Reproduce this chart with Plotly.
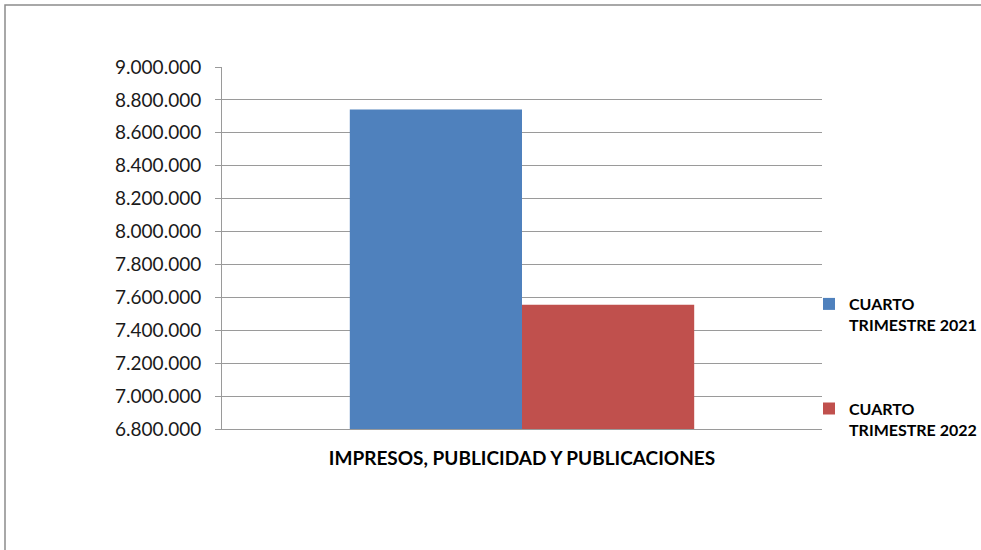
import plotly.graph_objects as go

categories = ["IMPRESOS, PUBLICIDAD Y PUBLICACIONES"]
series_names = ["CUARTO<br>TRIMESTRE 2021", "CUARTO<br>TRIMESTRE 2022"]
values_2021 = [8741000]
values_2022 = [7555000]
colors = ["#4F81BD", "#C0504D"]
tick_vals = [6800000 + 200000 * i for i in range(12)]

W, H = 981, 550
L, R, T, B = 222, 822, 67, 429

fig = go.Figure()
fig.add_trace(go.Bar(x=categories, y=values_2021, name=series_names[0],
                     marker=dict(color=colors[0], line=dict(width=0)), legendgroup="a"))
fig.add_trace(go.Bar(x=categories, y=values_2022, name=series_names[1],
                     marker=dict(color=colors[1], line=dict(width=0)), legendgroup="b"))

px = lambda x: (x - L) / (R - L)
py = lambda y: 1 - (y - T) / (B - T)

fig.update_layout(
    width=W, height=H,
    margin=dict(l=L, r=W - R, t=T, b=H - B, autoexpand=False),
    paper_bgcolor="white", plot_bgcolor="white",
    separators=",.",
    bargap=0.426, bargroupgap=0,
    font=dict(family="Lato, Liberation Sans, sans-serif", color="#000000"),
    showlegend=True,
    legend=dict(x=px(809), y=py(287), xanchor="left", yanchor="top",
                font=dict(size=16, family="Lato, sans-serif", weight="bold"),
                valign="top",
                tracegroupgap=60, itemwidth=30, bgcolor="rgba(0,0,0,0)"),
    xaxis=dict(showline=True, linecolor="#9a9a9a", linewidth=1, ticks="",
               tickfont=dict(size=19, family="Lato, sans-serif", weight="bold"),
               ticklabelstandoff=12),
    yaxis=dict(range=[6800000, 9000000], tickvals=tick_vals, tickformat=",d",
               showgrid=True, gridcolor="#9a9a9a", gridwidth=1,
               showline=True, linecolor="#9a9a9a", linewidth=1,
               ticks="outside", ticklen=6, tickcolor="#9a9a9a",
               tickfont=dict(size=19, family="Lato, sans-serif", color="#1a1a1a"),
               ticklabelstandoff=10, zeroline=False),
    shapes=[dict(type="path", xref="paper", yref="paper",
                 path=f"M {px(5)},{py(560)} L {px(5)},{py(5)} L {px(990)},{py(5)}",
                 line=dict(color="#8c8c8c", width=1.5))],
)

fig.write_html("out.html", config={"displayModeBar": False},
               post_script="document.body.style.margin='0';document.body.style.padding='0';")
